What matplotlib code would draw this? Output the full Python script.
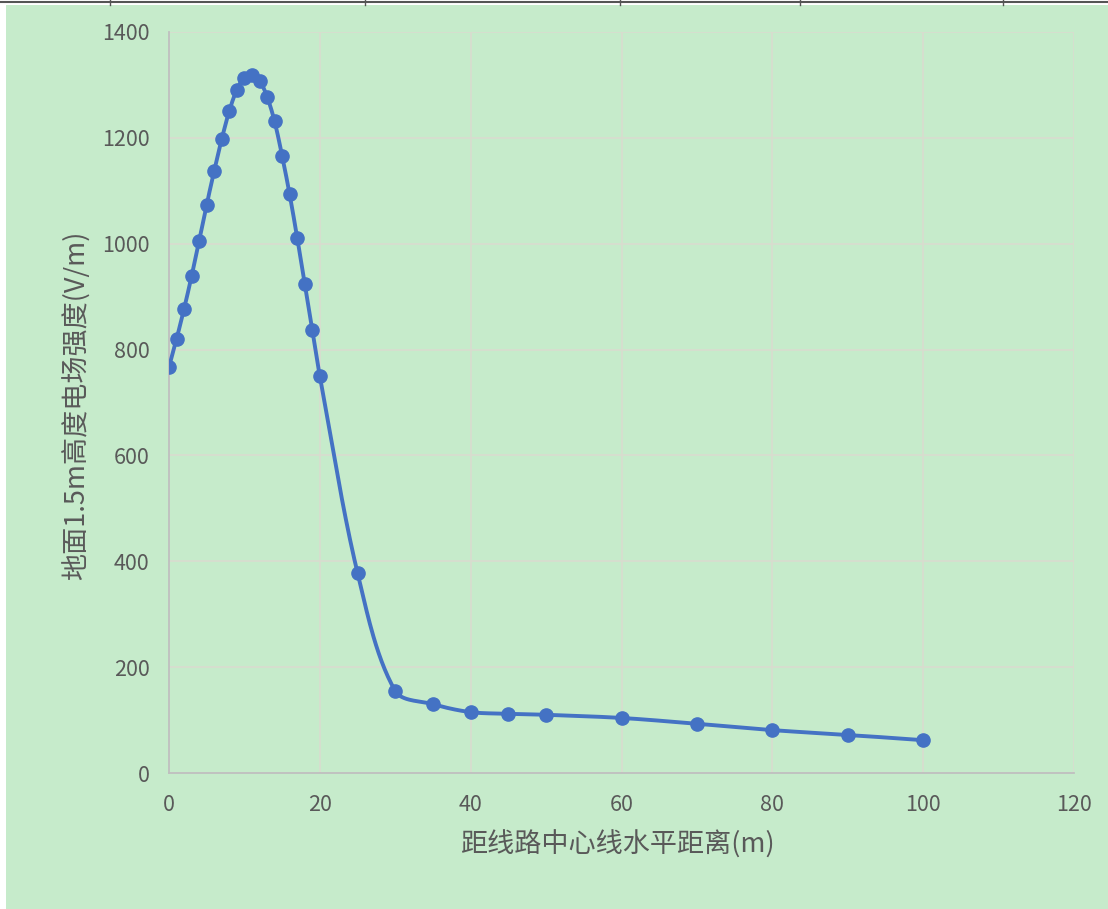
import numpy as np
import matplotlib
matplotlib.use("Agg")
import matplotlib.pyplot as plt
from matplotlib.patches import Rectangle
from matplotlib.lines import Line2D

plt.rcParams['font.family'] = ['Noto Sans CJK SC', 'DejaVu Sans']

# Data
distance_m = [0, 1, 2, 3, 4, 5, 6, 7, 8, 9, 10, 11, 12, 13, 14, 15, 16, 17, 18, 19, 20,
              25, 30, 35, 40, 45, 50, 60, 70, 80, 90, 100]
field_vm = [767, 820, 877, 939, 1006, 1074, 1138, 1198, 1251, 1291, 1314, 1319, 1308,
            1278, 1231, 1166, 1093, 1011, 924, 837, 750,
            378, 155, 130, 115, 112, 110, 104, 93, 81, 72, 62]
x_ticks = [0, 20, 40, 60, 80, 100, 120]
y_ticks = [0, 200, 400, 600, 800, 1000, 1200, 1400]
x_label = "距线路中心线水平距离(m)"
y_label = "地面1.5m高度电场强度(V/m)"

W, H = 1108, 909
AX_L, AX_R, AX_T, AX_B = 169, 1074, 32, 773
XMAX, YMAX = 120, 1400


def smooth_curve(xs, ys, sx, sy, n=30):
    """Smoothed line: cubic Bezier through points, tangent scaled by segment lengths
    (computed in screen proportions to avoid overshoot)."""
    P = np.column_stack([np.asarray(xs, float) * sx, np.asarray(ys, float) * sy])
    N = len(P)
    t = np.linspace(0, 1, n)[:, None]
    out = []
    for i in range(N - 1):
        p0, p3 = P[i], P[i + 1]
        pm = P[i - 1] if i > 0 else p0
        pp = P[i + 2] if i + 2 < N else p3
        d01 = np.linalg.norm(p3 - p0)
        dm0 = np.linalg.norm(p0 - pm)
        d12 = np.linalg.norm(pp - p3)
        tan0 = (p3 - pm) / (dm0 + d01) if dm0 + d01 > 0 else np.zeros(2)
        tan1 = (pp - p0) / (d01 + d12) if d01 + d12 > 0 else np.zeros(2)
        c1 = p0 + tan0 * d01 / 3.0
        c2 = p3 - tan1 * d01 / 3.0
        seg = (1 - t) ** 3 * p0 + 3 * (1 - t) ** 2 * t * c1 + 3 * (1 - t) * t ** 2 * c2 + t ** 3 * p3
        out.append(seg)
    out = np.vstack(out)
    return out[:, 0] / sx, out[:, 1] / sy


fig = plt.figure(figsize=(W / 100, H / 100), dpi=100)
fig.patch.set_facecolor('white')

# green page background
bg = Rectangle((6 / W, 0), 1 - 6 / W, 1 - 5 / H, transform=fig.transFigure,
               facecolor='#c6ebcb', edgecolor='none', zorder=-10)
fig.add_artist(bg)
# top table border remnants
fig.add_artist(Line2D([0, 1], [1 - 2 / H, 1 - 2 / H], transform=fig.transFigure,
                      color='#555555', lw=1.5, zorder=-5))
for xv in [110, 365, 620, 800, 1003]:
    fig.add_artist(Line2D([xv / W, xv / W], [1, 1 - 5 / H], transform=fig.transFigure,
                          color='#555555', lw=1, zorder=-5))

ax = fig.add_axes([AX_L / W, 1 - AX_B / H, (AX_R - AX_L) / W, (AX_B - AX_T) / H])
ax.set_zorder(5)
ax.set_facecolor('none')

px_x = (AX_R - AX_L) / XMAX
px_y = (AX_B - AX_T) / YMAX
cx, cy = smooth_curve(distance_m, field_vm, px_x, px_y)
ax.plot(cx, cy, color='#4472C4', lw=2.8, zorder=3, solid_capstyle='round')
ax.plot(distance_m, field_vm, 'o', color='#4472C4', markersize=9.5, zorder=4)

ax.set_xlim(0, XMAX)
ax.set_ylim(0, YMAX)
ax.set_xticks(x_ticks)
ax.set_yticks(y_ticks)
ax.grid(True, color='#d9dccf', lw=1.2)
ax.set_axisbelow(True)
for s in ['top', 'right']:
    ax.spines[s].set_visible(False)
for s in ['left', 'bottom']:
    ax.spines[s].set_color('#bfbfbf')
    ax.spines[s].set_linewidth(1.3)
ax.tick_params(length=0, labelsize=15.5, labelcolor='#595959')
ax.tick_params(axis='x', pad=15)
ax.tick_params(axis='y', pad=14)

fig.text(617 / W, 1 - 845 / H, x_label, fontsize=19.5, color='#595959',
         ha='center', va='center')
fig.text(77 / W, 1 - 405 / H, y_label, fontsize=19.5, color='#595959',
         ha='center', va='center', rotation=90)

fig.savefig('out.png', dpi=100, facecolor=fig.get_facecolor())
